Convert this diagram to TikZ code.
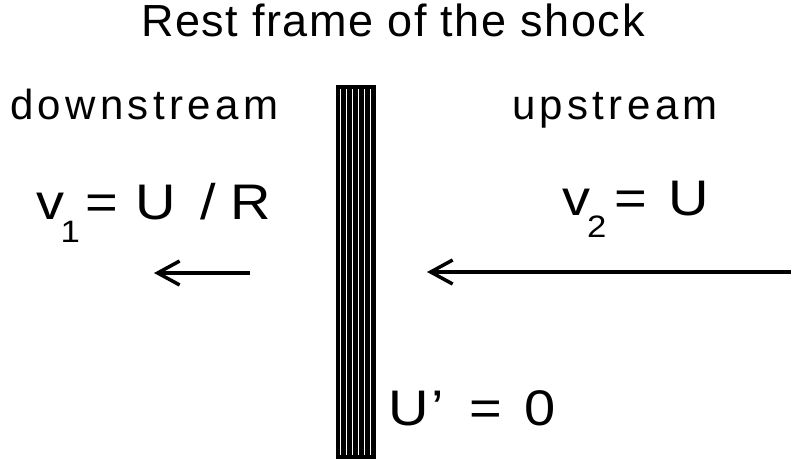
\documentclass[tikz,border=0pt]{standalone}
\usepackage{fontspec}
\setmainfont{Liberation Sans}
\newfontfamily\velfont[FakeStretch=1.12]{Liberation Sans}
\usetikzlibrary{arrows.meta}
\newcommand{\velsize}{\velfont\fontsize{50}{50}\selectfont}
\newcommand{\subsize}{\velfont\fontsize{31}{31}\selectfont}
\begin{document}
\begin{tikzpicture}[x=1pt,y=-1pt,
  lbl/.style={anchor=base west,inner sep=0pt,outer sep=0pt},
  flow/.style={line width=3.5pt,-{Straight Barb[length=22pt,width=24pt,line width=3.5pt]}},
  stripe/.style={white,line width=1.4pt}]
\useasboundingbox (0,0) rectangle (791,462);
% title
\node[lbl] (title) at (141,37) {\fontsize{45}{45}\selectfont\addfontfeatures{LetterSpace=3.5}Rest frame of the shock};
\node[lbl] (down) at (10,120) {\fontsize{42}{42}\selectfont\addfontfeatures{LetterSpace=10.5}downstream};
\node[lbl] (up) at (512,120) {\fontsize{42}{42}\selectfont\addfontfeatures{LetterSpace=10.5}upstream};
% velocities
\node[lbl] (v1) at (36,219) {\velsize v\kern-3.4pt\raisebox{-23pt}{\subsize 1}\kern5.5pt=\kern2pt{} U\kern8.5pt{} /\kern-1pt{} R};
\node[lbl] (v2) at (562.6,215) {\velsize v\kern-3.6pt\raisebox{-22pt}{\subsize 2}\kern8pt=\kern6pt{} U};
\node[lbl] (u0) at (388.5,425) {\velsize U\kern2.6pt’\kern9.7pt{} =\kern7pt{} 0};
% shock
\node[fill=black,inner sep=0pt,minimum width=40pt,minimum height=374pt] (shock) at (356,272) {};
\foreach \i in {0,...,5}
  \draw[stripe] ([xshift={4.7pt+\i*6pt},yshift=-4.5pt]shock.north west) -- ([xshift={4.7pt+\i*6pt},yshift=4.5pt]shock.south west);
% arrows
\coordinate (a1s) at (250,273);
\coordinate (a1e) at (154,273);
\coordinate (a2s) at (791,272);
\coordinate (a2e) at (427,272);
\draw[flow] (a1s) -- (a1e);
\draw[flow] (a2s) -- (a2e);
\end{tikzpicture}
\end{document}
